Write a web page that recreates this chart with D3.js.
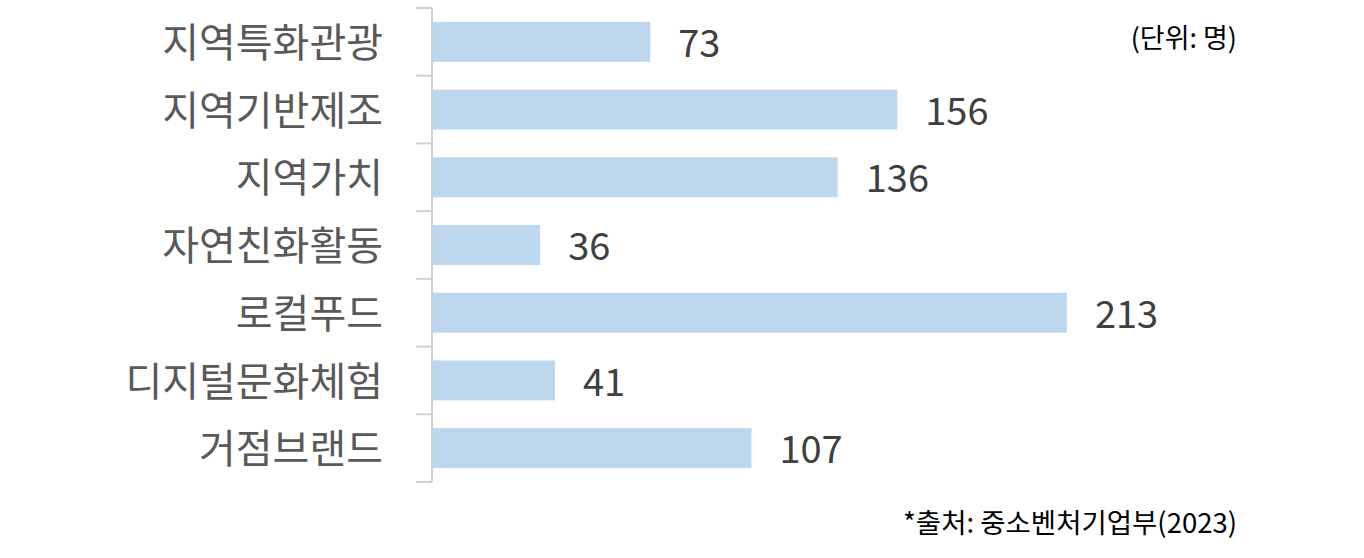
<!DOCTYPE html>
<html>
<head>
<meta charset="utf-8">
<script src="https://cdn.jsdelivr.net/npm/d3@7"></script>
<style>
  body { margin: 0; background: #fff; }
  .container { width: 1364px; height: 558px; }
  text { font-family: 'Noto Sans CJK KR', 'Noto Sans', sans-serif; }
</style>
</head>
<body>
<div class="container"></div>
<script>
const categories = ['지역특화관광', '지역기반제조', '지역가치', '자연친화활동', '로컬푸드', '디지털문화체험', '거점브랜드']
const values = [73, 156, 136, 36, 213, 41, 107]
const unitLabel = '(단위: 명)'
const sourceLabel = '*출처: 중소벤처기업부(2023)'

document.addEventListener('DOMContentLoaded', function () {
  const container = document.querySelector('.container')
  const width = container.clientWidth
  const height = container.clientHeight

  const svg = d3
    .select(container)
    .append('svg')
    .attr('width', width)
    .attr('height', height)

  const x = d3.scaleLinear().domain([0, 250]).range([433, 1177])
  const y = d3
    .scaleBand()
    .domain(categories)
    .range([8, 482])
    .paddingInner(0.41)
    .paddingOuter(0.205)

  // axis: light grey line with ticks between bands
  const axis = svg.append('g').attr('transform', 'translate(432,0)')
  axis
    .append('line')
    .attr('y1', 8)
    .attr('y2', 482)
    .attr('stroke', '#d0d0d0')
    .attr('stroke-width', 2)
  axis
    .selectAll('.tick')
    .data(d3.range(categories.length + 1))
    .enter()
    .append('line')
    .attr('x1', -16)
    .attr('x2', 0)
    .attr('y1', (i) => 8 + i * (474 / categories.length))
    .attr('y2', (i) => 8 + i * (474 / categories.length))
    .attr('stroke', '#d0d0d0')
    .attr('stroke-width', 2)

  svg
    .selectAll('rect.bar')
    .data(values)
    .enter()
    .append('rect')
    .attr('class', 'bar')
    .attr('x', x(0))
    .attr('y', (d, i) => y(categories[i]))
    .attr('width', (d) => x(d) - x(0))
    .attr('height', y.bandwidth())
    .attr('fill', '#bdd7ee')

  svg
    .selectAll('text.value')
    .data(values)
    .enter()
    .append('text')
    .attr('class', 'value')
    .attr('x', (d) => x(d) + 28)
    .attr('y', (d, i) => y(categories[i]) + y.bandwidth() / 2)
    .attr('dy', '0.4em')
    .attr('font-size', '38px')
    .attr('fill', '#404040')
    .text((d) => d)

  svg
    .selectAll('text.cat')
    .data(categories)
    .enter()
    .append('text')
    .attr('class', 'cat')
    .attr('x', 383)
    .attr('y', (d) => y(d) + y.bandwidth() / 2)
    .attr('dy', '0.38em')
    .attr('text-anchor', 'end')
    .attr('font-size', '40px')
    .attr('fill', '#595959')
    .text((d) => d)

  svg
    .append('text')
    .attr('x', 1237)
    .attr('y', 48)
    .attr('text-anchor', 'end')
    .attr('font-size', '27px')
    .attr('fill', '#000')
    .text(unitLabel)

  svg
    .append('text')
    .attr('x', 1237)
    .attr('y', 533)
    .attr('text-anchor', 'end')
    .attr('font-size', '27.5px')
    .attr('fill', '#000')
    .text(sourceLabel)
})
</script>
</body>
</html>
